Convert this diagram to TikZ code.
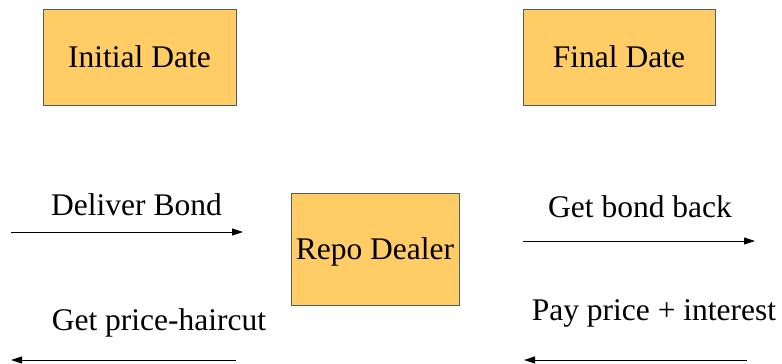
\documentclass[tikz,border=0pt]{standalone}
\usepackage{fontspec}
\setmainfont{Liberation Serif}
\newfontfamily\slidefont{Liberation Serif}
\usepackage{xcolor}
\usetikzlibrary{arrows.meta}
\definecolor{boxgold}{HTML}{FFCC66}
\tikzset{
    date-box/.style = {draw=black!65, fill=boxgold, line width=1pt, rectangle, inner sep=0pt, text depth=0pt, minimum width=193pt, minimum height=96pt},
    flow-label/.style = {anchor=base, inner sep=0pt},
    flow-arrow/.style = {draw=black, line width=0.9pt, -{Triangle[length=11pt,width=7pt]}},
}

\begin{document}
\begin{tikzpicture}[x=1pt, y=-1pt, font=\slidefont\fontsize{31.5}{38}\selectfont]
\useasboundingbox (0,0) rectangle (782,364);
% the two dates
\node[date-box] (initial) at (139.5,57) {Initial Date};
\node[date-box, minimum width=192pt] (final) at (619,57) {Final Date};
\node[date-box, minimum width=168pt, minimum height=112pt] (dealer) at (375,249) {Repo Dealer};

% left side
\node[flow-label] (deliver) at (136.5,215) {Deliver Bond};
\coordinate (deliver-from) at (11,232);
\coordinate (deliver-to) at (243,232);
\draw[flow-arrow] (deliver-from) -- (deliver-to);

\node[flow-label] (haircut) at (159,330) {Get price-haircut};
\coordinate (haircut-from) at (236,360);
\coordinate (haircut-to) at (11,360);
\draw[flow-arrow] (haircut-from) -- (haircut-to);

% right side
\node[flow-label] (bondback) at (640,217) {Get bond back};
\coordinate (bondback-from) at (523,241);
\coordinate (bondback-to) at (755,241);
\draw[flow-arrow] (bondback-from) -- (bondback-to);

\node[flow-label] (interest) at (654,320) {Pay price + interest};
\coordinate (interest-from) at (747,360);
\coordinate (interest-to) at (524,360);
\draw[flow-arrow] (interest-from) -- (interest-to);
\end{tikzpicture}
\end{document}
